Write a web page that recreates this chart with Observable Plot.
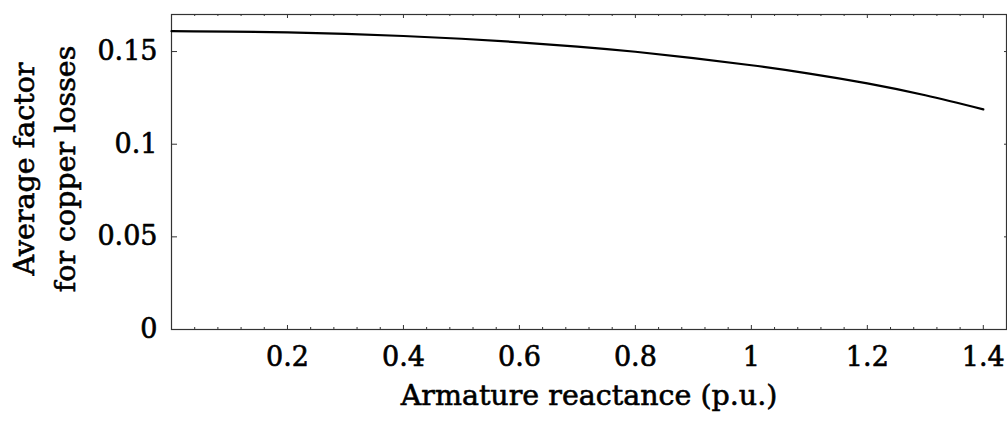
<!DOCTYPE html>
<html><head><meta charset="utf-8">
<script src="https://cdn.jsdelivr.net/npm/d3@7"></script>
<script src="https://cdn.jsdelivr.net/npm/@observablehq/plot@0.6"></script>
<style>body{margin:0;background:#fff;} svg{display:block;}</style>
</head><body><div id="chart"></div>
<script>
// Data
const reactance = [0, 0.1, 0.2, 0.3, 0.4, 0.5, 0.6, 0.7, 0.8, 0.9, 1.0, 1.1, 1.2, 1.3, 1.4];
const avgFactor = [0.1610, 0.1608, 0.1603, 0.1595, 0.1584, 0.1569, 0.1550, 0.1527, 0.1499, 0.1465, 0.1426, 0.1381, 0.1328, 0.1264, 0.1188];
const xTickLabels = [0.2, 0.4, 0.6, 0.8, 1, 1.2, 1.4];
const xMinorTicks = [0.04, 0.08, 0.12, 0.16, 0.24, 0.28, 0.32, 0.36, 0.44, 0.48, 0.52, 0.56, 0.64, 0.68, 0.72, 0.76, 0.84, 0.88, 0.92, 0.96, 1.04, 1.08, 1.12, 1.16, 1.24, 1.28, 1.32, 1.36, 1.44];
const yTickLabels = [0, 0.05, 0.1, 0.15];
const xTitle = "Armature reactance (p.u.)";
const yTitle = "Average factor\nfor copper losses";

const table = reactance.map((x, i) => ({x, y: avgFactor[i]}));

const width = 1007, height = 437;
const mL = 171, mR = 1, mT = 14, mB = 108;
const W = width - mL - mR, H = height - mT - mB;
const font = "DejaVu Serif";
const fs = 27;
const fsTitle = 28.5;
const frameColor = "#333";
const thicken = {stroke: "#000", strokeWidth: 0.6};

const plot = Plot.plot({
  width, height,
  marginLeft: mL, marginRight: mR, marginTop: mT, marginBottom: mB,
  style: {fontFamily: font, fontSize: fs + "px", color: "#000", background: "#fff"},
  x: {domain: [0, 1.44], axis: null},
  y: {domain: [0, 0.17], axis: null},
  marks: [
    Plot.frame({stroke: frameColor, strokeWidth: 1.2}),
    // bottom ticks
    Plot.ruleX(xTickLabels, {x: d => d, insetTop: H - 4, stroke: frameColor}),
    Plot.ruleX(xMinorTicks, {x: d => d, insetTop: H - 2, stroke: frameColor}),
    // top ticks
    Plot.ruleX(xTickLabels, {x: d => d, insetBottom: H - 4, stroke: frameColor}),
    Plot.ruleX(xMinorTicks, {x: d => d, insetBottom: H - 2, stroke: frameColor}),
    // left / right ticks
    Plot.ruleY(yTickLabels, {y: d => d, insetRight: W - 6, stroke: frameColor}),
    Plot.ruleY(yTickLabels, {y: d => d, insetLeft: W - 2, stroke: frameColor}),
    // tick labels
    Plot.text(xTickLabels, {x: d => d, text: d => String(d), frameAnchor: "bottom", textAnchor: "middle", lineAnchor: "middle", dy: 28, fontSize: fs, fill: "#000", ...thicken}),
    Plot.text(yTickLabels, {y: d => d, text: d => String(d), frameAnchor: "left", textAnchor: "end", lineAnchor: "middle", dx: -14, fontSize: fs, fill: "#000", ...thicken}),
    Plot.line(table, {x: "x", y: "y", stroke: "#000", strokeWidth: 2.2, curve: "natural"}),
    Plot.text([xTitle], {text: d => d, frameAnchor: "bottom", textAnchor: "middle", lineAnchor: "middle", dy: 66, fontSize: fsTitle, fill: "#000", ...thicken}),
    Plot.text([yTitle], {text: d => d, frameAnchor: "left", textAnchor: "middle", lineAnchor: "middle", dx: -130, dy: -3, rotate: -90, fontSize: fsTitle, lineHeight: 1.42, fill: "#000", ...thicken})
  ]
});
document.getElementById("chart").append(plot);
</script>
</body></html>
